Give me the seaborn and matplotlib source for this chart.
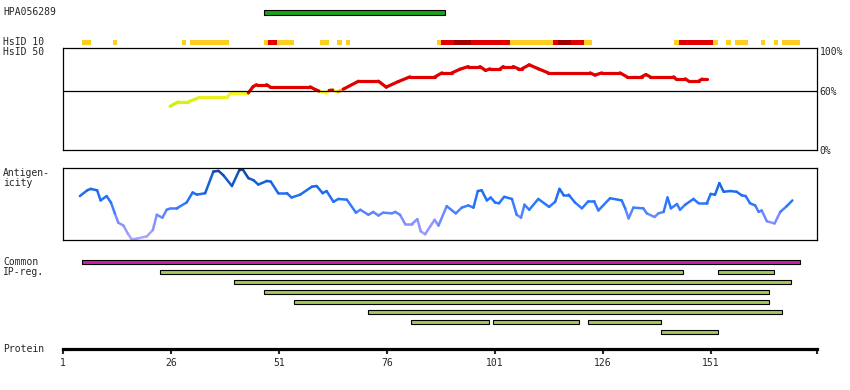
import pandas as pd
import seaborn as sns
import matplotlib.pyplot as plt
from matplotlib.colors import LinearSegmentedColormap

sns.set_style("white")
plt.rcParams["font.family"] = ["DejaVu Sans Mono", "DejaVu Sans"]

# protein length (axis end) and antigen / epitope data
seq_end = 175.5
hpa_name = "HPA056289"
hpa_start, hpa_end = 48, 89

# HsID 10 identity blocks (residue ranges + level)
hsid10_start = [6, 13, 29, 31, 48, 49, 51, 61, 65, 67, 88, 89, 92, 96, 105, 115, 116, 119, 122,
                143, 144, 152, 155, 157, 163, 166, 168]
hsid10_end = [7, 13, 29, 39, 48, 50, 54, 62, 65, 67, 88, 91, 95, 104, 114, 115, 118, 121, 123,
              143, 151, 152, 155, 159, 163, 166, 171]
hsid10_level = ["lo", "lo", "lo", "lo", "lo", "mid", "lo", "lo", "lo", "lo", "lo", "mid", "hi", "mid",
                "lo", "mid", "hi", "mid", "lo", "lo", "mid", "lo", "lo", "lo", "lo", "lo", "lo"]

# HsID 50 identity curve (%)
hsid50_pos = [25.8, 27.7, 30.0, 32.7, 38.9, 40.0, 43.9, 45.0, 45.8, 48.1, 48.9, 58.2, 59.4, 60.2,
              61.9, 62.6, 63.4, 64.7, 65.9, 69.4, 74.0, 75.8, 78.6, 81.3, 87.1, 88.7, 91.0, 92.9,
              94.8, 97.5, 98.8, 99.8, 102.2, 102.9, 105.2, 106.4, 107.2, 108.9, 111.0, 113.3, 123.0,
              124.1, 125.7, 129.9, 131.5, 134.9, 135.9, 136.9, 142.3, 142.8, 145.0, 145.8, 148.1,
              148.9, 150.0]
hsid50_pct = [44.2, 48.6, 48.6, 53.3, 53.3, 57.7, 57.7, 64.0, 66.0, 66.0, 63.8, 63.8, 61.0, 59.6,
              57.4, 60.2, 60.5, 58.7, 61.5, 69.5, 69.5, 63.5, 69.1, 73.9, 73.9, 77.9, 77.9, 81.6,
              84.3, 84.3, 80.3, 82.0, 82.0, 84.3, 84.3, 82.0, 82.0, 86.0, 82.0, 77.9, 77.9,
              75.6, 77.9, 77.9, 73.9, 73.9, 76.2, 73.9, 73.9, 71.9, 71.9, 69.5, 69.5,
              71.7, 71.7]

# antigenicity profile (relative score 0-1)
antigen_pos = [4.9, 6.6, 7.4, 8.9, 9.7, 11.1, 12.1, 13.0, 13.8, 15.0, 16.0, 16.9, 18.1, 20.4, 21.8,
               22.7, 24.0, 25.0, 25.9, 27.3, 29.6, 31.0, 32.0, 33.9, 35.8, 37.0, 38.1, 40.1, 41.8,
               42.6, 43.9, 45.1, 46.2, 48.2, 49.1, 50.8, 52.8, 53.9, 55.9, 58.6, 59.7, 61.1, 62.0,
               63.6, 64.7, 66.7, 68.8, 69.8, 71.7, 72.8, 74.0, 75.1, 77.1, 77.9, 79.0, 80.2, 81.7,
               83.0, 83.8, 84.8, 87.0, 87.9, 89.8, 91.9, 93.3, 94.8, 96.0, 97.0, 97.9, 99.1, 100.0,
               101.0, 101.9, 103.1, 104.9, 106.0, 107.0, 107.8, 108.9, 111.0, 113.5, 114.9, 115.9,
               116.8, 118.0, 119.5, 121.1, 122.6, 123.9, 124.9, 127.6, 130.3, 131.1, 131.9, 133.0,
               135.3, 136.1, 137.9, 138.8, 140.0, 140.9, 141.7, 143.1, 143.8, 145.0, 146.9, 148.1,
               150.0, 150.9, 151.9, 152.9, 153.9, 155.4, 156.9, 158.1, 159.0, 160.0, 161.2, 162.0,
               162.7, 163.9, 165.7, 167.0, 168.5, 169.8]
antigen_score = [0.61, 0.69, 0.71, 0.69, 0.55, 0.61, 0.52, 0.37, 0.24, 0.20, 0.09, 0.01, 0.02, 0.05,
                 0.14, 0.35, 0.31, 0.42, 0.44, 0.44, 0.52, 0.66, 0.63, 0.65, 0.95, 0.96, 0.90, 0.75,
                 0.97, 0.98, 0.86, 0.83, 0.77, 0.82, 0.81, 0.65, 0.65, 0.59, 0.63, 0.74, 0.75, 0.65,
                 0.68, 0.53, 0.57, 0.56, 0.38, 0.42, 0.35, 0.39, 0.34, 0.38, 0.37, 0.39, 0.35, 0.22,
                 0.22, 0.29, 0.12, 0.08, 0.28, 0.20, 0.47, 0.37, 0.45, 0.48, 0.45, 0.68, 0.69, 0.55,
                 0.59, 0.52, 0.51, 0.60, 0.57, 0.35, 0.31, 0.49, 0.42, 0.57, 0.46, 0.53, 0.71, 0.63,
                 0.63, 0.52, 0.44, 0.54, 0.54, 0.41, 0.58, 0.55, 0.44, 0.30, 0.45, 0.44, 0.37, 0.32,
                 0.37, 0.39, 0.59, 0.44, 0.50, 0.42, 0.49, 0.57, 0.51, 0.51, 0.64, 0.63, 0.79, 0.67,
                 0.68, 0.67, 0.62, 0.61, 0.51, 0.48, 0.39, 0.41, 0.26, 0.23, 0.39, 0.47, 0.55]

# common region + IP regions (row, start, end)
common_start, common_end = 6, 171
ip_row = [1, 1, 2, 3, 4, 5, 6, 6, 6, 7]
ip_start = [24, 153, 41, 48, 55, 72, 82, 101, 123, 140]
ip_end = [144, 165, 169, 164, 164, 167, 99, 120, 139, 152]

tick_pos = [1, 26, 51, 76, 101, 126, 151]

W, H = 850, 390
fig = plt.figure(figsize=(W / 100, H / 100), dpi=100)


def add_ax(top, bottom, left=63, right=817):
    ax = fig.add_axes([left / W, 1 - bottom / H, (right - left) / W, (bottom - top) / H])
    ax.set_facecolor("none")
    ax.set_xlim(1, seq_end)
    ax.set_xticks([])
    ax.set_yticks([])
    return ax


def label(x, y, s, **kw):
    fig.text(x / W, 1 - y / H, s, fontsize=7, va="center", **kw)


# epitope bar
ax = add_ax(8, 17)
ax.barh(0.5, hpa_end - hpa_start + 1, left=hpa_start - 0.5, height=0.55,
        color="#1aa01a", edgecolor="black", linewidth=0.8)
ax.set_ylim(0, 1)
sns.despine(ax=ax, left=True, bottom=True)

# HsID 10 strip
ax = add_ax(40, 45)
lvl_col = {"lo": "#ffcc22", "mid": "#e00000", "hi": "#a00000"}
for s, e, l in zip(hsid10_start, hsid10_end, hsid10_level):
    ax.barh(0.5, e - s + 1, left=s - 0.5, height=1, color=lvl_col[l], linewidth=0)
ax.set_ylim(0, 1)
sns.despine(ax=ax, left=True, bottom=True)

# HsID 50 panel
ax = add_ax(48, 150)
rows = []
for i in range(len(hsid50_pos) - 1):
    mid = (hsid50_pct[i] + hsid50_pct[i + 1]) / 2
    rows.append((i, hsid50_pos[i], hsid50_pct[i], mid))
    rows.append((i, hsid50_pos[i + 1], hsid50_pct[i + 1], mid))
df50 = pd.DataFrame(rows, columns=["seg", "pos", "pct", "val"])
cmap50 = LinearSegmentedColormap.from_list(
    "id50", [(0, "#b8f000"), (0.25, "#f0f020"), (0.333, "#ffff30"), (0.334, "#e00000"), (1, "#e00000")])
sns.lineplot(data=df50, x="pos", y="pct", hue="val", units="seg", estimator=None, sort=False,
             palette=cmap50, hue_norm=(40, 100), linewidth=2.3, legend=False, ax=ax)
ax.axhline(60, color="black", linewidth=0.9)
ax.set_ylim(0, 103)
ax.set_xlim(1, seq_end)
ax.set_xlabel("")
ax.set_ylabel("")
ax.yaxis.tick_right()
ax.set_yticks([0, 60, 100], ["0%", "60%", "100%"], fontsize=7)
ax.tick_params(axis="y", length=0, pad=2)
for sp in ax.spines.values():
    sp.set_color("black")
    sp.set_linewidth(0.9)

# antigenicity panel
ax = add_ax(168, 240)
rows = []
for i in range(len(antigen_pos) - 1):
    mid = (antigen_score[i] + antigen_score[i + 1]) / 2
    rows.append((i, antigen_pos[i], antigen_score[i], mid))
    rows.append((i, antigen_pos[i + 1], antigen_score[i + 1], mid))
dfa = pd.DataFrame(rows, columns=["seg", "pos", "score", "val"])
cmapa = LinearSegmentedColormap.from_list(
    "ag", [(0, "#b4a8ff"), (0.3, "#7c8cff"), (0.5, "#2a78ff"), (0.75, "#1a66e8"), (1, "#0c4290")])
sns.lineplot(data=dfa, x="pos", y="score", hue="val", units="seg", estimator=None, sort=False,
             palette=cmapa, hue_norm=(0, 1), linewidth=1.8, legend=False, ax=ax)
ax.set_ylim(0, 1)
ax.set_xlim(1, seq_end)
ax.set_xlabel("")
ax.set_ylabel("")
ax.set_yticks([])
for sp in ax.spines.values():
    sp.set_color("black")
    sp.set_linewidth(0.9)

# common + IP regions
ax = add_ax(257.3, 337.3)
ax.barh(0, common_end - common_start + 1, left=common_start - 0.5, height=0.42,
        color="#cc22aa", edgecolor="black", linewidth=0.8)
for r, s, e in zip(ip_row, ip_start, ip_end):
    ax.barh(r, e - s + 1, left=s - 0.5, height=0.42, color="#a4c85c", edgecolor="black", linewidth=0.8)
ax.set_ylim(7.5, -0.5)
sns.despine(ax=ax, left=True, bottom=True)

# protein axis
ax = add_ax(344, 349)
sns.despine(ax=ax, left=True)
ax.spines["bottom"].set_linewidth(2.3)
ax.spines["bottom"].set_color("black")
ax.set_xticks(tick_pos + [seq_end], [str(t) for t in tick_pos] + [""], fontsize=7)
ax.tick_params(axis="x", length=3.5, width=1.5, pad=3, direction="out", bottom=True)

# left labels
label(3, 12, hpa_name)
label(3, 42, "HsID 10")
label(3, 52, "HsID 50")
label(3, 173, "Antigen-")
label(3, 183, "icity")
label(3, 262, "Common")
label(3, 272, "IP-reg.")
label(3, 349, "Protein")

fig.savefig("out.png", dpi=100)
